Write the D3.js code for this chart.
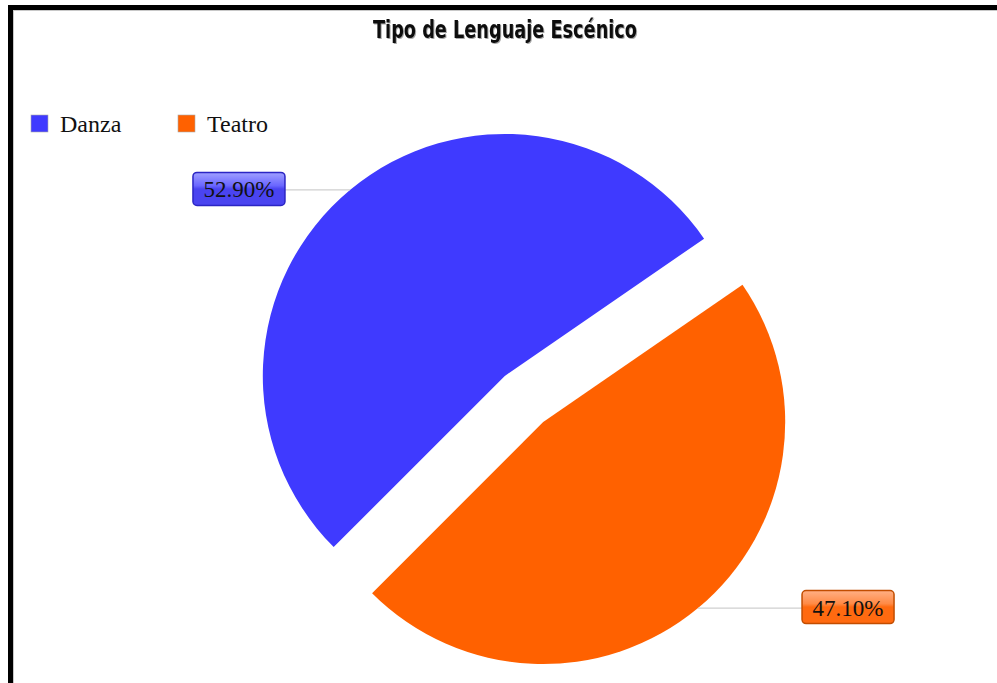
<!DOCTYPE html>
<html>
<head>
<meta charset="utf-8">
<script src="https://cdn.jsdelivr.net/npm/d3@7"></script>
<style>
  html, body { margin: 0; padding: 0; background: #fff; }
  svg { display: block; }
</style>
</head>
<body>
<svg id="chart" width="997" height="683"></svg>
<script>
// ---- data ----
const categories = ["Danza", "Teatro"];
const values = [52.9, 47.1];
const labels = ["52.90%", "47.10%"];
const title = "Tipo de Lenguaje Escénico";

// ---- style ----
const colors = ["#3f3aff", "#ff6100"];
const boxTop = ["#a0a0ff", "#ffb085"];
const boxMid = ["#6a66ff", "#ff8a45"];
const boxBot = ["#4a44f0", "#ff6a10"];
const boxStroke = ["#2b25c4", "#c24d00"];

const W = 997, H = 683;
const cx = 524, cy = 399, R = 242, explode = 30;
const connectorLen = [65, 104];

const svg = d3.select("#chart");

// frame
svg.append("rect").attr("x", 0).attr("y", 0).attr("width", W).attr("height", H).attr("fill", "#fff");
svg.append("rect").attr("x", 8).attr("y", 5).attr("width", W - 8).attr("height", 5).attr("fill", "#000");
svg.append("rect").attr("x", 8).attr("y", 5).attr("width", 5).attr("height", H - 5).attr("fill", "#000");
svg.append("line").attr("x1", 13).attr("x2", W).attr("y1", 10.5).attr("y2", 10.5).attr("stroke", "#c8c8c8").attr("stroke-width", 1);
svg.append("line").attr("x1", 13.5).attr("x2", 13.5).attr("y1", 10).attr("y2", H).attr("stroke", "#c8c8c8").attr("stroke-width", 1);

// gradients
const defs = svg.append("defs");
categories.forEach((c, i) => {
  const g = defs.append("linearGradient").attr("id", "box" + i).attr("x1", 0).attr("y1", 0).attr("x2", 0).attr("y2", 1);
  g.append("stop").attr("offset", "0%").attr("stop-color", boxTop[i]);
  g.append("stop").attr("offset", "40%").attr("stop-color", boxMid[i]);
  g.append("stop").attr("offset", "50%").attr("stop-color", boxBot[i]);
  g.append("stop").attr("offset", "100%").attr("stop-color", boxBot[i]);
});
const sh = defs.append("filter").attr("id", "tsh").attr("x", "-10%").attr("y", "-10%").attr("width", "120%").attr("height", "140%");
sh.append("feDropShadow").attr("dx", 1).attr("dy", 1).attr("stdDeviation", 0.6).attr("flood-color", "#000").attr("flood-opacity", 0.35);

// title
svg.append("text")
  .attr("x", 505).attr("y", 38)
  .attr("text-anchor", "middle")
  .attr("font-family", "'DejaVu Sans Condensed', 'DejaVu Sans', sans-serif")
  .attr("font-weight", "bold")
  .attr("font-size", 24)
  .attr("textLength", 264)
  .attr("lengthAdjust", "spacingAndGlyphs")
  .attr("fill", "#111")
  .attr("filter", "url(#tsh)")
  .text(title);

// legend
const legendX = [31, 178];
const legend = svg.append("g");
categories.forEach((c, i) => {
  legend.append("rect").attr("x", legendX[i]).attr("y", 115).attr("width", 17).attr("height", 17)
    .attr("fill", colors[i]).attr("stroke", "#aaa").attr("stroke-width", 0.6);
  legend.append("text").attr("x", legendX[i] + 29).attr("y", 132)
    .attr("font-family", "'Liberation Serif', 'Times New Roman', serif")
    .attr("font-size", 24).attr("fill", "#111").text(c);
});

// pie
const pie = d3.pie().sort(null)
  .startAngle(-135 * Math.PI / 180)
  .endAngle(225 * Math.PI / 180);
const arcs = pie(values);
const arc = d3.arc().innerRadius(0).outerRadius(R);

const g = svg.append("g").attr("transform", `translate(${cx},${cy})`);
arcs.forEach((a, i) => {
  const mid = (a.startAngle + a.endAngle) / 2;
  const ox = explode * Math.sin(mid), oy = -explode * Math.cos(mid);
  g.append("path").attr("d", arc(a)).attr("fill", colors[i])
    .attr("transform", `translate(${ox},${oy})`);

  // connector + label
  const px = ox + R * Math.sin(mid), py = oy - R * Math.cos(mid);
  const side = Math.sin(mid) < 0 ? -1 : 1;
  const ex = px + side * connectorLen[i];
  g.append("line").attr("x1", px).attr("y1", py).attr("x2", ex).attr("y2", py)
    .attr("stroke", "#cfcfcf").attr("stroke-width", 1.2);

  const bw = 92, bh = 33;
  const bx = side < 0 ? ex - bw : ex;
  const by = py - bh / 2 - 1;
  g.append("rect").attr("x", bx).attr("y", by).attr("width", bw).attr("height", bh)
    .attr("rx", 4).attr("ry", 4)
    .attr("fill", `url(#box${i})`).attr("stroke", boxStroke[i]).attr("stroke-width", 1.5);
  g.append("text").attr("x", bx + bw / 2).attr("y", by + 25)
    .attr("text-anchor", "middle")
    .attr("font-family", "'Liberation Serif', 'Times New Roman', serif")
    .attr("font-size", 23).attr("fill", "#111").text(labels[i]);
});
</script>
</body>
</html>
